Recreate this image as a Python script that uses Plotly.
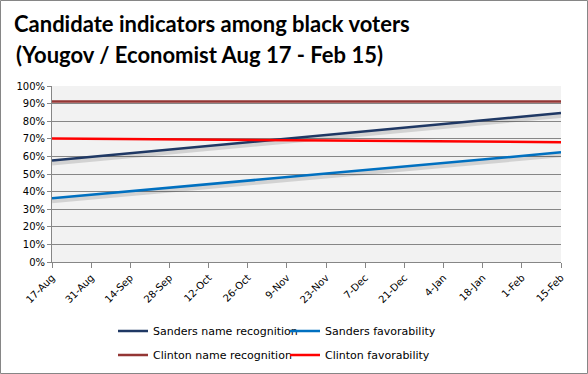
import plotly.graph_objects as go

# ---- data ----
dates = ["2015-08-17", "2016-02-15"]
sanders_name = [0.576, 0.847]
sanders_fav = [0.362, 0.623]
clinton_name = [0.912, 0.912]
clinton_fav = [0.702, 0.681]

tick_dates = ["2015-08-17", "2015-08-31", "2015-09-14", "2015-09-28", "2015-10-12",
              "2015-10-26", "2015-11-09", "2015-11-23", "2015-12-07", "2015-12-21",
              "2016-01-04", "2016-01-18", "2016-02-01", "2016-02-15"]
tick_labels = ["17-Aug", "31-Aug", "14-Sep", "28-Sep", "12-Oct", "26-Oct", "9-Nov",
               "23-Nov", "7-Dec", "21-Dec", "4-Jan", "18-Jan", "1-Feb", "15-Feb"]
y_ticks = [i / 10 for i in range(11)]

W, H = 588, 374
ML, MR, MT, MB = 52, 27, 86, 112
SHADOW = 0.014

fig = go.Figure()

# soft shadows under Sanders lines
for vals in (sanders_name, sanders_fav):
    fig.add_trace(go.Scatter(x=dates, y=[v - SHADOW for v in vals], mode="lines",
                             line=dict(color="rgba(0,0,0,0.13)", width=5),
                             showlegend=False, hoverinfo="skip"))

fig.add_trace(go.Scatter(x=dates, y=sanders_name, mode="lines", name="Sanders name recognition",
                         line=dict(color="#1F3864", width=2.5), legend="legend"))
fig.add_trace(go.Scatter(x=dates, y=sanders_fav, mode="lines", name="Sanders favorability",
                         line=dict(color="#0070C0", width=2.5), legend="legend"))
fig.add_trace(go.Scatter(x=dates, y=clinton_name, mode="lines", name="Clinton name recognition",
                         line=dict(color="#943634", width=2.5), legend="legend2"))
fig.add_trace(go.Scatter(x=dates, y=clinton_fav, mode="lines", name="Clinton favorability",
                         line=dict(color="#FF0000", width=2.5), legend="legend2"))

axis_font = dict(family="DejaVu Sans", size=10, color="#000000")
legend_common = dict(orientation="h", xref="container", yref="container",
                     xanchor="left", yanchor="middle", entrywidth=127, entrywidthmode="pixels",
                     font=dict(family="DejaVu Sans", size=11, color="#000000"),
                     bgcolor="rgba(0,0,0,0)", itemclick=False, itemdoubleclick=False)

fig.update_layout(
    width=W, height=H,
    margin=dict(l=ML, r=MR, t=MT, b=MB),
    paper_bgcolor="#FFFFFF",
    plot_bgcolor="#F2F2F2",
    title=dict(text="<b>Candidate indicators among black voters</b>",
               x=14 / W, xanchor="left", xref="container",
               y=1 - 17 / H, yanchor="top", yref="container",
               font=dict(family="Lato", size=22, color="#000000")),
    annotations=[dict(text="<b>(Yougov / Economist Aug 17 - Feb 15)</b>",
                      xref="paper", yref="paper",
                      x=-(ML - 14) / (W - ML - MR), xanchor="left",
                      y=1 + (MT - 39) / (H - MT - MB), yanchor="top",
                      showarrow=False, font=dict(family="Lato", size=22, color="#000000"))],
    xaxis=dict(type="date", range=[dates[0], dates[-1]],
               tickmode="array", tickvals=tick_dates, ticktext=tick_labels,
               tickangle=-45, tickfont=axis_font,
               showgrid=False, zeroline=False,
               showline=True, linecolor="#868686", linewidth=1,
               ticks="outside", ticklen=5, tickcolor="#868686"),
    yaxis=dict(range=[0, 1], tickmode="array", tickvals=y_ticks, tickformat=".0%",
               tickfont=axis_font, showgrid=True, gridcolor="#868686", gridwidth=1,
               zeroline=False, showline=True, linecolor="#868686", linewidth=1,
               ticks="outside", ticklen=4, tickcolor="#868686"),
    legend=dict(x=113 / W, y=1 - 331 / H, **legend_common),
    legend2=dict(x=113 / W, y=1 - 355 / H, **legend_common),
    shapes=[dict(type="rect", xref="paper", yref="paper",
                 x0=-(ML - 0.5) / (W - ML - MR), x1=1 + (MR - 0.5) / (W - ML - MR),
                 y0=-(MB - 0.5) / (H - MT - MB), y1=1 + (MT - 0.5) / (H - MT - MB),
                 line=dict(color="#868686", width=1), layer="below")],
    showlegend=True,
)

fig.write_html("out.html", config={"displayModeBar": False},
               post_script="document.body.style.margin='0';")
